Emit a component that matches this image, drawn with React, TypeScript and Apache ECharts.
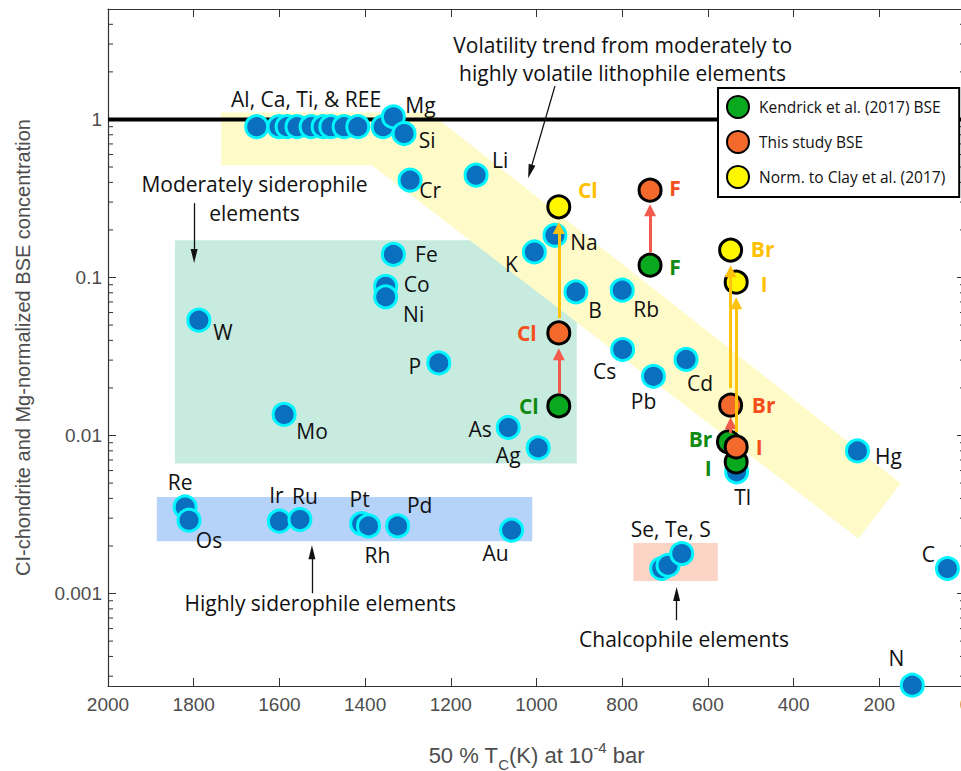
import React, { useEffect, useRef } from "react";
import * as echarts from "echarts";

// ---------------- Data ----------------
// Axis ranges / ticks
const X_MIN = 0;
const X_MAX = 2000;
const X_STEP = 200;
const Y_MIN = 0.00026;
const Y_MAX = 5;

// Refractory lithophile group (Al, Ca, Ti & REE)
const REE_LABEL = "Al, Ca, Ti, & REE";
const REE_TC = [1653, 1601, 1582, 1559, 1526, 1498, 1480, 1449, 1417, 1358];
const REE_CONC = [0.9, 0.9, 0.9, 0.9, 0.9, 0.9, 0.9, 0.9, 0.9, 0.9];
const REE_LABEL_INDEX = 4;

// Other elements (blue)
const ELEMENTS = ["Mg", "Si", "Cr", "Li", "Fe", "Co", "Ni", "W", "P", "Mo", "Na", "K", "B", "Rb", "Cs", "Pb", "Cd", "As", "Ag", "Hg", "Tl", "Re", "Os", "Ir", "Ru", "Pt", "Rh", "Pd", "Au", "Se", "Te", "S", "C", "N"];
const ELEMENT_TC = [1334, 1309, 1295, 1141, 1334, 1352, 1352, 1788, 1228, 1589, 957, 1005, 908, 800, 799, 727, 651, 1066, 996, 251, 533, 1820, 1811, 1600, 1552, 1408, 1392, 1324, 1058, 708, 693, 661, 41, 123];
const ELEMENT_CONC = [1.04, 0.815, 0.413, 0.444, 0.14, 0.088, 0.0754, 0.0537, 0.0288, 0.0136, 0.185, 0.145, 0.0811, 0.0831, 0.035, 0.0237, 0.0303, 0.01124, 0.00835, 0.00799, 0.00589, 0.00353, 0.00291, 0.00287, 0.00294, 0.00277, 0.00268, 0.00268, 0.00252, 0.00144, 0.00151, 0.00179, 0.00144, 0.000263];
const GROUP_LABELS: Record<string, string> = { S: "Se, Te, S" };

// Halogens
const KENDRICK_NAMES = ["Cl", "F", "Br", "I"];
const KENDRICK_TC = [948, 735, 552, 534];
const KENDRICK_CONC = [0.0154, 0.1196, 0.00912, 0.0068];
const STUDY_NAMES = ["Cl", "F", "Br", "I"];
const STUDY_TC = [948, 735, 547, 534];
const STUDY_CONC = [0.0446, 0.357, 0.01555, 0.00847];
const CLAY_NAMES = ["Cl", "Br", "I"];
const CLAY_TC = [948, 547, 534];
const CLAY_CONC = [0.28, 0.149, 0.0934];

// Shaded regions (rectangles)
const REGION_TC_FROM = [1844, 1886, 774];
const REGION_TC_TO = [906, 1010, 577];
const REGION_CONC_TOP = [0.172, 0.00409, 0.00209];
const REGION_CONC_BOTTOM = [0.00665, 0.00214, 0.0012];

// Volatility trend band (polygon vertices)
const BAND_TC = [1736, 1249, 150, 249, 1384, 1736];
const BAND_CONC = [1.107, 1.107, 0.00497, 0.00223, 0.514, 0.514];

// Arrows: Kendrick -> this study (red)
const RED_TC = [948, 735, 547];
const RED_FROM = [0.0185, 0.1445, 0.01034];
const RED_TO = [0.0327, 0.2667, 0.01197];
// Arrows: this study -> Clay-normalised (gold)
const GOLD_TC = [948, 547, 534];
const GOLD_FROM = [0.0553, 0.01993, 0.0105];
const GOLD_TO = [0.206, 0.1096, 0.0688];
// Annotation arrows (black)
const NOTE_TC_FROM = [957, 1799, 1524, 673];
const NOTE_CONC_FROM = [1.625, 0.2952, 0.001004, 0.000678];
const NOTE_TC_TO = [1015, 1799, 1524, 673];
const NOTE_CONC_TO = [0.469, 0.1368, 0.001826, 0.000994];

// ---------------- Layout / styles ----------------
const FONT = "'Open Sans', 'Noto Sans', sans-serif";
const AXIS_FONT = "'Liberation Sans', Arial, sans-serif";
const AXIS_COLOR = "#333";
const TICK_TEXT = "#4d4d4d";
const REGION_COLORS = ["#c7ebdf", "#b5d2f8", "#fcd4c5"];
const BAND_COLOR = "#fffbc8";
const GREEN = "#08a81f";
const ORANGE = "#f36a2c";
const YELLOW = "#fff700";
const GREEN_TEXT = "#108a10";
const ORANGE_TEXT = "#f5501c";
const GOLD_TEXT = "#ffc000";

const LABEL_OFFSETS: Record<string, number[]> = {
  Mg: [27, -12], Si: [23, 7], Cr: [20, 10], Li: [24, -15], Fe: [33, 0], Co: [31, -2], Ni: [28, 17],
  W: [24, 12], P: [-24, 3], Mo: [28, 17], Na: [29, 7], K: [-23, 12], B: [19, 18], Rb: [24, 19],
  Cs: [-18, 21], Pb: [-10, 25], Cd: [14, 24], As: [-28, 2], Ag: [-30, 7], Hg: [31, 5], Tl: [6, 25],
  Re: [-5, -25], Os: [20, 20], Ir: [-3, -26], Ru: [5, -24], Pt: [-2, -25], Rh: [9, 29], Pd: [22, -21],
  Au: [-16, 23], S: [-11, -25], C: [-19, -15], N: [-16, -27],
};
const REE_OFFSET = [-5, -28];
const KENDRICK_OFFSETS = [[-30, 0], [25, 2], [-28, -3], [-28, 6]];
const STUDY_OFFSETS = [[-32, 0], [25, -2], [33, 0], [23, 0]];
const CLAY_OFFSETS = [[29, -17], [32, -1], [28, 2]];

function logLabel(v: number): string {
  const e = Math.log10(v);
  const r = Math.round(e);
  if (Math.abs(e - r) > 1e-6) return "";
  return r >= 0 ? String(Math.pow(10, r)) : "0." + "0".repeat(-r - 1) + "1";
}

function minorTickValues(): number[] {
  const out: number[] = [];
  for (let d = -4; d <= 0; d++) {
    for (let m = 2; m <= 9; m++) {
      const v = m * Math.pow(10, d);
      if (v > Y_MIN && v < Y_MAX) out.push(v);
    }
  }
  return out;
}

function buildOption() {
  const blueData: any[] = [
    ...REE_TC.map((t, i) => ({
      name: REE_LABEL,
      value: [t, REE_CONC[i]],
      label: { show: i === REE_LABEL_INDEX, offset: REE_OFFSET },
    })),
    ...ELEMENTS.map((n, i) => ({
      name: GROUP_LABELS[n] || n,
      value: [ELEMENT_TC[i], ELEMENT_CONC[i]],
      label: LABEL_OFFSETS[n] ? { show: true, offset: LABEL_OFFSETS[n] } : { show: false },
    })),
  ];

  const halogenData = (names: string[], tc: number[], conc: number[], offs: number[][]) =>
    names.map((n, i) => ({ name: n, value: [tc[i], conc[i]], label: { offset: offs[i] } }));

  const arrowLines = (tcFrom: number[], from: number[], tcTo: number[], to: number[]) =>
    tcFrom.map((t, i) => [{ coord: [t, from[i]] }, { coord: [tcTo[i], to[i]] }]);

  const axisLine = { show: true, onZero: false, lineStyle: { color: AXIS_COLOR, width: 1.2 } };
  const axisTick = { show: true, inside: true, length: 8, lineStyle: { color: AXIS_COLOR, width: 1 } };

  const baseX = {
    type: "value",
    min: X_MIN,
    max: X_MAX,
    interval: X_STEP,
    inverse: true,
    axisLine,
    axisTick,
    splitLine: { show: false },
  };
  const baseY = {
    type: "log",
    logBase: 10,
    min: Y_MIN,
    max: Y_MAX,
    axisLine,
    axisTick,
    splitLine: { show: false },
    minorTick: { show: false },
  };

  const scatterBase = {
    type: "scatter",
    symbol: "circle",
    symbolSize: 22,
    emphasis: { disabled: true },
    silent: true,
    z: 3,
  };

  const noteText = (text: string, x: number, y: number) => ({
    type: "text",
    x,
    y,
    z: 20,
    style: { text, font: `21px ${FONT}`, fill: "#111", textAlign: "center", textVerticalAlign: "middle" },
  });

  return {
    animation: false,
    backgroundColor: "#ffffff",
    grid: { left: 108, top: 9, width: 857, height: 677, containLabel: false, outerBoundsMode: "none" },
    legend: {
      show: true,
      orient: "vertical",
      left: 718,
      top: 88,
      padding: [7, 14, 8, 8],
      itemGap: 11,
      itemWidth: 22,
      itemHeight: 22,
      icon: "circle",
      selectedMode: false,
      backgroundColor: "#ffffff",
      borderColor: "#000000",
      borderWidth: 2,
      data: ["Kendrick et al. (2017) BSE", "This study BSE", "Norm. to Clay et al. (2017)"],
      textStyle: { fontFamily: FONT, fontSize: 15.5, color: "#111", padding: [0, 0, 0, 5] },
      z: 10,
    },
    xAxis: [
      {
        ...baseX,
        position: "bottom",
        axisLabel: { show: true, fontFamily: AXIS_FONT, fontSize: 19, color: TICK_TEXT, margin: 9, formatter: (v: number) => String(v) },
        name: "{n|50 % T}{sub|C}{n|(K) at 10}{sup|-4}{n| bar}",
        nameLocation: "middle",
        nameGap: 56,
        nameTextStyle: {
          rich: {
            n: { fontFamily: AXIS_FONT, fontSize: 22, color: TICK_TEXT, lineHeight: 26, verticalAlign: "middle" },
            sub: { fontFamily: AXIS_FONT, fontSize: 15, color: TICK_TEXT, lineHeight: 15, padding: [18, 0, 0, 0], verticalAlign: "middle" },
            sup: { fontFamily: AXIS_FONT, fontSize: 15, color: TICK_TEXT, lineHeight: 15, padding: [0, 0, 16, 0], verticalAlign: "middle" },
          },
        },
      },
      { ...baseX, position: "top", axisLabel: { show: false } },
    ],
    yAxis: [
      {
        ...baseY,
        position: "left",
        axisLabel: { show: true, fontFamily: AXIS_FONT, fontSize: 19, color: TICK_TEXT, margin: 6, formatter: logLabel },
        name: "CI-chondrite and Mg-normalized BSE concentration",
        nameLocation: "middle",
        nameGap: 75,
        nameTextStyle: { fontFamily: AXIS_FONT, fontSize: 20, color: TICK_TEXT },
      },
      { ...baseY, position: "right", axisLabel: { show: false } },
    ],
    graphic: [
      noteText("Volatility trend from moderately to", 622.7, 45),
      noteText("highly volatile lithophile elements", 622.5, 73.3),
      noteText("Moderately siderophile", 254.5, 184.3),
      noteText("elements", 254.5, 212.7),
      noteText("Highly siderophile elements", 320.3, 602.7),
      noteText("Chalcophile elements", 684, 639.3),
    ],
    series: [
      {
        type: "custom",
        name: "regions",
        silent: true,
        z: 1,
        encode: { x: [0, 2], y: [1, 3] },
        data: REGION_TC_FROM.map((t, i) => [t, REGION_CONC_TOP[i], REGION_TC_TO[i], REGION_CONC_BOTTOM[i]]),
        renderItem: (params: any, api: any) => {
          const p1 = api.coord([api.value(0), api.value(1)]);
          const p2 = api.coord([api.value(2), api.value(3)]);
          return {
            type: "rect",
            shape: { x: Math.min(p1[0], p2[0]), y: Math.min(p1[1], p2[1]), width: Math.abs(p2[0] - p1[0]), height: Math.abs(p2[1] - p1[1]) },
            style: { fill: REGION_COLORS[params.dataIndex] },
          };
        },
      },
      {
        type: "custom",
        name: "band",
        silent: true,
        z: 1,
        data: [[BAND_TC[0], BAND_CONC[0]]],
        renderItem: (_params: any, api: any) => {
          const pts = BAND_TC.map((t, i) => api.coord([t, BAND_CONC[i]]));
          return { type: "polygon", shape: { points: pts }, style: { fill: BAND_COLOR } };
        },
      },
      {
        type: "line",
        name: "unity",
        silent: true,
        z: 2,
        symbol: "none",
        data: [[X_MAX, 1], [X_MIN, 1]],
        lineStyle: { color: "#000", width: 4 },
        emphasis: { disabled: true },
      },
      {
        type: "custom",
        name: "minorTicks",
        silent: true,
        clip: false,
        z: 2,
        data: minorTickValues().map((v) => [X_MAX, v]),
        renderItem: (_params: any, api: any) => {
          const v = api.value(1);
          const pl = api.coord([X_MAX, v]);
          const pr = api.coord([X_MIN, v]);
          return {
            type: "group",
            children: [
              { type: "line", shape: { x1: pl[0], y1: pl[1], x2: pl[0] + 5, y2: pl[1] }, style: { stroke: AXIS_COLOR, lineWidth: 1 } },
              { type: "line", shape: { x1: pr[0] - 5, y1: pr[1], x2: pr[0], y2: pr[1] }, style: { stroke: AXIS_COLOR, lineWidth: 1 } },
            ],
          };
        },
      },
      {
        ...scatterBase,
        name: "Elements",
        data: blueData,
        itemStyle: { color: "#0a6fbf", borderColor: "#00f5ff", borderWidth: 3, opacity: 1 },
        label: { show: true, position: "inside", formatter: "{b}", fontFamily: FONT, fontSize: 21, lineHeight: 22, color: "#111" },
        markLine: {
          silent: true,
          symbol: ["none", "triangle"],
          symbolSize: [7, 14],
          label: { show: false },
          emphasis: { disabled: true },
          lineStyle: { color: "#111", width: 1.3, type: "solid" },
          data: arrowLines(NOTE_TC_FROM, NOTE_CONC_FROM, NOTE_TC_TO, NOTE_CONC_TO),
        },
      },
      {
        ...scatterBase,
        name: "Kendrick et al. (2017) BSE",
        data: halogenData(KENDRICK_NAMES, KENDRICK_TC, KENDRICK_CONC, KENDRICK_OFFSETS),
        itemStyle: { color: GREEN, borderColor: "#000", borderWidth: 3, opacity: 1 },
        label: { show: true, position: "inside", formatter: "{b}", fontFamily: FONT, fontSize: 21, lineHeight: 22, fontWeight: "bold", color: GREEN_TEXT },
      },
      {
        ...scatterBase,
        name: "This study BSE",
        data: halogenData(STUDY_NAMES, STUDY_TC, STUDY_CONC, STUDY_OFFSETS),
        itemStyle: { color: ORANGE, borderColor: "#000", borderWidth: 3, opacity: 1 },
        label: { show: true, position: "inside", formatter: "{b}", fontFamily: FONT, fontSize: 21, lineHeight: 22, fontWeight: "bold", color: ORANGE_TEXT },
        markLine: {
          silent: true,
          symbol: ["none", "triangle"],
          symbolSize: [12, 12],
          label: { show: false },
          emphasis: { disabled: true },
          lineStyle: { color: "#f25a4c", width: 3, type: "solid" },
          data: arrowLines(RED_TC, RED_FROM, RED_TC, RED_TO),
        },
      },
      {
        ...scatterBase,
        name: "Norm. to Clay et al. (2017)",
        data: halogenData(CLAY_NAMES, CLAY_TC, CLAY_CONC, CLAY_OFFSETS),
        itemStyle: { color: YELLOW, borderColor: "#000", borderWidth: 3, opacity: 1 },
        label: { show: true, position: "inside", formatter: "{b}", fontFamily: FONT, fontSize: 21, lineHeight: 22, fontWeight: "bold", color: GOLD_TEXT },
        markLine: {
          silent: true,
          symbol: ["none", "triangle"],
          symbolSize: [12, 12],
          label: { show: false },
          emphasis: { disabled: true },
          lineStyle: { color: "#ffc20e", width: 3, type: "solid" },
          data: arrowLines(GOLD_TC, GOLD_FROM, GOLD_TC, GOLD_TO),
        },
      },
    ],
  };
}

export default function App() {
  const ref = useRef<HTMLDivElement | null>(null);
  useEffect(() => {
    if (!ref.current) return;
    const chart = echarts.init(ref.current, null, { renderer: "svg" });
    chart.setOption(buildOption() as any);
    return () => chart.dispose();
  }, []);
  return (
    <div style={{ position: "absolute", left: 0, top: 0, width: 961, height: 771, overflow: "hidden", background: "#fff" }}>
      <div ref={ref} style={{ width: 975, height: 771 }} />
    </div>
  );
}
